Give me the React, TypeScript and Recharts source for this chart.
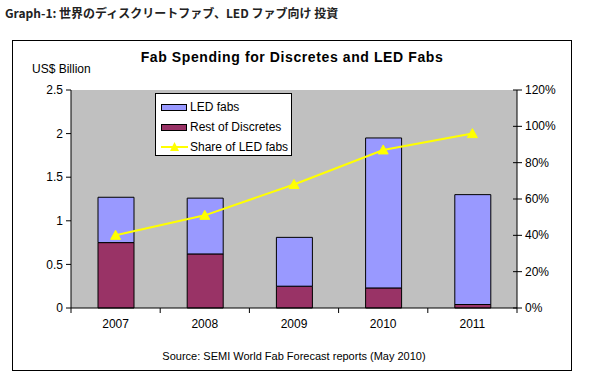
import {
	Bar,
	CartesianGrid,
	ComposedChart,
	Line,
	XAxis,
	YAxis,
} from 'recharts'

const years = ['2007', '2008', '2009', '2010', '2011']
const ledFabs = [0.52, 0.64, 0.56, 1.72, 1.26]
const restOfDiscretes = [0.75, 0.62, 0.25, 0.23, 0.04]
const ledShare = [40, 51, 68, 87, 96]
const leftTicks = [0, 0.5, 1, 1.5, 2, 2.5]
const rightTicks = [0, 20, 40, 60, 80, 100, 120]

const W = 589
const H = 379
const PLOT_LEFT = 71
const PLOT_RIGHT = 517
const PLOT_TOP = 90
const PLOT_BOTTOM = 308
const BAND = (PLOT_RIGHT - PLOT_LEFT) / years.length

const FONT = '"Liberation Sans", Arial, sans-serif'

const data = years.map((year, i) => ({
	year,
	led: ledFabs[i],
	rest: restOfDiscretes[i],
	share: ledShare[i],
}))

function Triangle(props: any) {
	const { cx, cy } = props
	if (cx == null || cy == null) return null
	return (
		<path
			d={`M${cx},${cy - 5} L${cx + 5},${cy + 4} L${cx - 5},${cy + 4} Z`}
			fill="#FFFF00"
			stroke="#FFFF00"
		/>
	)
}

function YearTick(props: any) {
	const { x, y, payload, index } = props
	const top = PLOT_BOTTOM
	return (
		<g>
			<line x1={x - BAND / 2} x2={x - BAND / 2} y1={top} y2={top + 5} stroke="#000" />
			{index === years.length - 1 && (
				<line x1={x + BAND / 2} x2={x + BAND / 2} y1={top} y2={top + 5} stroke="#000" />
			)}
			<text x={x} y={y + 12} textAnchor="middle" fontSize={12} fontFamily={FONT} fill="#000">
				{payload.value}
			</text>
		</g>
	)
}

// right axis: Excel style ticks crossing the axis line
function PercentTick(props: any) {
	const { x, y, payload } = props
	const axisX = x - 8
	return (
		<g>
			<line x1={axisX - 4} x2={axisX + 5} y1={y} y2={y} stroke="#000" />
			<text x={x} y={y + 4} textAnchor="start" fontSize={12} fontFamily={FONT} fill="#000">
				{payload.value}%
			</text>
		</g>
	)
}

function LegendBox() {
	const rows = [
		{ label: 'LED fabs', kind: 'bar', color: '#9999FF' },
		{ label: 'Rest of Discretes', kind: 'bar', color: '#993366' },
		{ label: 'Share of LED fabs', kind: 'line', color: '#FFFF00' },
	]
	return (
		<div
			style={{
				position: 'absolute',
				left: 155,
				top: 93,
				width: 137,
				height: 63,
				background: '#fff',
				border: '1px solid #000',
				boxSizing: 'border-box',
				fontFamily: FONT,
				fontSize: 12,
				paddingTop: 3,
			}}
		>
			{rows.map((r) => (
				<div key={r.label} style={{ display: 'flex', alignItems: 'center', height: 20, paddingLeft: 5 }}>
					<svg width={27} height={10} style={{ marginRight: 2 }}>
						{r.kind === 'bar' ? (
							<rect x={0.5} y={2.5} width={25} height={6} fill={r.color} stroke="#000" />
						) : (
							<g>
								<line x1={0} x2={27} y1={5} y2={5} stroke={r.color} strokeWidth={2} />
								<path d="M13.5,0 L18,9 L9,9 Z" fill={r.color} />
							</g>
						)}
					</svg>
					<span>{r.label}</span>
				</div>
			))}
		</div>
	)
}

export default function App() {
	return (
		<div style={{ position: 'fixed', left: 0, top: 0, width: W, height: H, background: '#fff' }}>
			<div
				style={{
					position: 'absolute',
					left: 5,
					top: 4,
					fontFamily: '"Noto Sans CJK JP", "Liberation Sans", sans-serif',
					fontWeight: 'bold',
					fontSize: 12,
					color: '#222',
				}}
			>
				Graph-1: 世界のディスクリートファブ、LED ファブ向け 投資
			</div>
			<div
				style={{
					position: 'absolute',
					left: 12,
					top: 40,
					width: 560,
					height: 331,
					border: '1px solid #000',
					boxSizing: 'border-box',
				}}
			/>
			<div
				style={{
					position: 'absolute',
					left: 0,
					width: 584,
					top: 49,
					textAlign: 'center',
					fontFamily: FONT,
					fontWeight: 'bold',
					fontSize: 14,
					letterSpacing: 0.6,
				}}
			>
				Fab Spending for Discretes and LED Fabs
			</div>
			<div style={{ position: 'absolute', left: 32, top: 62, fontFamily: FONT, fontSize: 12 }}>
				US$ Billion
			</div>
			<div
				style={{
					position: 'absolute',
					left: 0,
					width: 588,
					top: 350,
					textAlign: 'center',
					fontFamily: FONT,
					fontSize: 11,
				}}
			>
				Source: SEMI World Fab Forecast reports (May 2010)
			</div>
			<div style={{ position: 'absolute', left: 0, top: 0 }}>
				<ComposedChart
					width={W}
					height={H}
					data={data}
					barCategoryGap="30%"
					margin={{ top: PLOT_TOP, bottom: H - PLOT_BOTTOM - 30, left: PLOT_LEFT - 40, right: W - PLOT_RIGHT - 50 }}
				>
					<CartesianGrid fill="#C0C0C0" horizontal={false} vertical={false} />
					<XAxis
						dataKey="year"
						height={30}
						stroke="#000"
						tickLine={false}
						tick={<YearTick />}
					/>
					<YAxis
						yAxisId="left"
						width={40}
						domain={[0, 2.5]}
						ticks={leftTicks}
						stroke="#000"
						tickSize={5}
						tickMargin={3}
						tick={{ fill: '#000', fontSize: 12, fontFamily: FONT }}
					/>
					<YAxis
						yAxisId="right"
						orientation="right"
						width={50}
						domain={[0, 120]}
						ticks={rightTicks}
						stroke="#000"
						tickLine={false}
						tickSize={5}
						tickMargin={3}
						tick={<PercentTick />}
					/>
					<Bar
						yAxisId="left"
						dataKey="rest"
						stackId="a"
						fill="#993366"
						stroke="#000"
						strokeWidth={1}
						barSize={36}
						isAnimationActive={false}
					/>
					<Bar
						yAxisId="left"
						dataKey="led"
						stackId="a"
						fill="#9999FF"
						stroke="#000"
						strokeWidth={1}
						barSize={36}
						isAnimationActive={false}
					/>
					<Line
						yAxisId="right"
						dataKey="share"
						stroke="#FFFF00"
						strokeWidth={2}
						dot={<Triangle />}
						activeDot={false}
						isAnimationActive={false}
					/>
				</ComposedChart>
			</div>
			<LegendBox />
		</div>
	)
}
